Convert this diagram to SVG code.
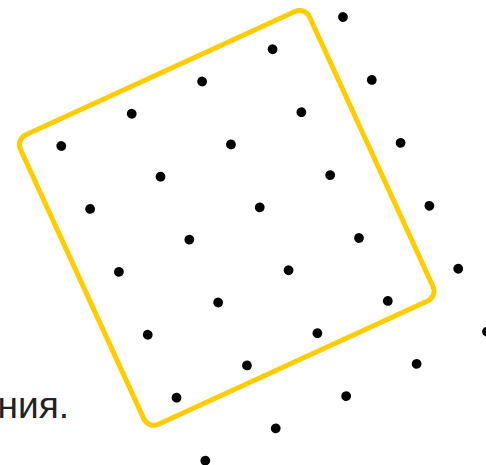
<svg xmlns="http://www.w3.org/2000/svg" width="486" height="465" viewBox="0 0 486 465">
<style>
.dot{fill:#000}
.frame{fill:none;stroke:#FFCC00;stroke-width:5}
.txt{font-family:"Liberation Sans",Arial,sans-serif;font-size:37px;fill:#222}
</style>
<rect width="486" height="465" fill="#fff"/>
<text class="txt" x="69" y="418" text-anchor="end">ния.</text>
<g id="grid" transform="translate(61.3,146) rotate(-24.6)">
<rect id="frame" class="frame" x="-38.5" y="-25" width="318" height="318.5" rx="11"/>
<g id="dots">
<circle class="dot" cx="0" cy="0" r="4.9"/><circle class="dot" cx="77.45" cy="0" r="4.9"/><circle class="dot" cx="154.9" cy="0" r="4.9"/><circle class="dot" cx="232.35" cy="0" r="4.9"/><circle class="dot" cx="309.8" cy="0" r="4.9"/>
<circle class="dot" cx="0" cy="69.2" r="4.9"/><circle class="dot" cx="77.45" cy="69.2" r="4.9"/><circle class="dot" cx="154.9" cy="69.2" r="4.9"/><circle class="dot" cx="232.35" cy="69.2" r="4.9"/><circle class="dot" cx="309.8" cy="69.2" r="4.9"/>
<circle class="dot" cx="0" cy="138.4" r="4.9"/><circle class="dot" cx="77.45" cy="138.4" r="4.9"/><circle class="dot" cx="154.9" cy="138.4" r="4.9"/><circle class="dot" cx="232.35" cy="138.4" r="4.9"/><circle class="dot" cx="309.8" cy="138.4" r="4.9"/>
<circle class="dot" cx="0" cy="207.6" r="4.9"/><circle class="dot" cx="77.45" cy="207.6" r="4.9"/><circle class="dot" cx="154.9" cy="207.6" r="4.9"/><circle class="dot" cx="232.35" cy="207.6" r="4.9"/><circle class="dot" cx="309.8" cy="207.6" r="4.9"/>
<circle class="dot" cx="0" cy="276.8" r="4.9"/><circle class="dot" cx="77.45" cy="276.8" r="4.9"/><circle class="dot" cx="154.9" cy="276.8" r="4.9"/><circle class="dot" cx="232.35" cy="276.8" r="4.9"/><circle class="dot" cx="309.8" cy="276.8" r="4.9"/>
<circle class="dot" cx="0" cy="346" r="4.9"/><circle class="dot" cx="77.45" cy="346" r="4.9"/><circle class="dot" cx="154.9" cy="346" r="4.9"/><circle class="dot" cx="232.35" cy="346" r="4.9"/><circle class="dot" cx="309.8" cy="346" r="4.9"/>
</g>
</g>
</svg>
